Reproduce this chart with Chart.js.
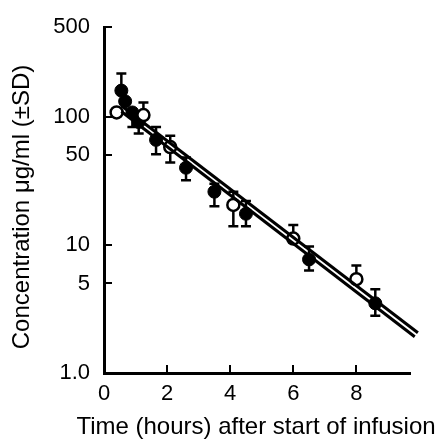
<!DOCTYPE html>
<html>
<head>
<meta charset="utf-8">
<script src="https://cdn.jsdelivr.net/npm/chart.js@4"></script>
<style>
  body { margin: 0; background: #fff; }
  #wrap { width: 437px; height: 445px; }
</style>
</head>
<body>
<div id="wrap"><canvas id="myChart"></canvas></div>
<script>
// filled circles
const filledTime = [0.55, 0.67, 0.9, 1.1, 1.65, 2.6, 3.5, 4.5, 6.5, 8.6];
const filledConc = [160, 132, 108, 91, 66, 40, 26, 17.5, 7.7, 3.5];
const filledHi = [218, null, null, null, 83, 48, 30, 22, 9.7, 4.5];
const filledLo = [null, null, 83, 74, 51, 32, 20, 14, 6.3, 2.8];

// open circles
const openTime = [0.4, 1.25, 2.1, 4.1, 6.0, 8.0];
const openConc = [108, 103, 58, 20.5, 11.2, 5.4];
const openHi = [null, 129, 71, 26, 14.3, 6.9];
const openLo = [null, null, 44, 14, null, null];

// fitted lines (end points)
const fitOpenTime = [0.55, 9.95];
const fitOpenConc = [122, 2.06];
const fitFilledTime = [0.55, 9.85];
const fitFilledConc = [110, 1.92];

const xTicks = [0, 2, 4, 6, 8];
const yTicks = [1, 5, 10, 50, 100, 500];
const yLabels = ['1.0', '5', '10', '50', '100', '500'];

const xTitle = 'Time (hours) after start of infusion';
const yTitle = 'Concentration μg/ml (±SD)';

const FONT = "'Liberation Sans', Arial, Helvetica, sans-serif";

function pts(xs, ys) {
  return xs.map((x, i) => ({ x: x, y: ys[i] }));
}

const errorBars = {
  id: 'errorBars',
  beforeDatasetsDraw(chart) {
    const { ctx, scales: { x, y } } = chart;
    ctx.save();
    ctx.strokeStyle = '#000';
    ctx.lineWidth = 2.5;
    const sets = [
      [filledTime, filledConc, filledHi, filledLo],
      [openTime, openConc, openHi, openLo]
    ];
    sets.forEach(([ts, cs, hi, lo]) => {
      ts.forEach((t, i) => {
        const px = x.getPixelForValue(t);
        const py = y.getPixelForValue(cs[i]);
        [hi[i], lo[i]].forEach(v => {
          if (v == null) return;
          const ey = y.getPixelForValue(v);
          ctx.beginPath();
          ctx.moveTo(px, py);
          ctx.lineTo(px, ey);
          ctx.moveTo(px - 5, ey);
          ctx.lineTo(px + 5, ey);
          ctx.stroke();
        });
      });
    });
    ctx.restore();
  }
};

// tick marks pointing into the plot, and axis titles (no width squeeze)
const axisDecor = {
  id: 'axisDecor',
  afterDraw(chart) {
    const { ctx, chartArea, scales: { x, y } } = chart;
    ctx.save();
    ctx.strokeStyle = '#000';
    ctx.lineWidth = 2;
    y.ticks.forEach(t => {
      const py = Math.round(y.getPixelForValue(t.value));
      ctx.beginPath();
      ctx.moveTo(chartArea.left, py);
      ctx.lineTo(chartArea.left + 8, py);
      ctx.stroke();
    });
    x.ticks.forEach(t => {
      if (t.value === 0) return;
      const px = Math.round(x.getPixelForValue(t.value));
      ctx.beginPath();
      ctx.moveTo(px, chartArea.bottom);
      ctx.lineTo(px, chartArea.bottom - 8);
      ctx.stroke();
    });

    ctx.fillStyle = '#000';
    ctx.font = '24px ' + FONT;
    ctx.textAlign = 'center';
    ctx.textBaseline = 'middle';
    ctx.fillText(xTitle, 256, 427);
    ctx.translate(22, 207);
    ctx.rotate(-Math.PI / 2);
    ctx.fillText(yTitle, 0, 0);
    ctx.restore();
  }
};

const config = {
  type: 'scatter',
  data: {
    datasets: [
      {
        type: 'line',
        data: pts(fitOpenTime, fitOpenConc),
        borderColor: '#000',
        borderWidth: 3,
        pointRadius: 0,
        clip: false
      },
      {
        type: 'line',
        data: pts(fitFilledTime, fitFilledConc),
        borderColor: '#000',
        borderWidth: 3,
        pointRadius: 0,
        clip: false
      },
      {
        data: pts(openTime, openConc),
        backgroundColor: '#fff',
        borderColor: '#000',
        borderWidth: 2.5,
        pointRadius: 6,
        clip: false
      },
      {
        data: pts(filledTime, filledConc),
        backgroundColor: '#000',
        borderColor: '#000',
        borderWidth: 1,
        pointRadius: 6.5,
        clip: false
      }
    ]
  },
  options: {
    responsive: true,
    maintainAspectRatio: false,
    animation: false,
    devicePixelRatio: 1,
    layout: { padding: { top: 18, right: 27, left: 0, bottom: 0 } },
    plugins: {
      legend: { display: false },
      tooltip: { enabled: false }
    },
    scales: {
      x: {
        type: 'linear',
        min: 0,
        max: 9.7,
        afterBuildTicks: axis => { axis.ticks = xTicks.map(v => ({ value: v })); },
        afterFit: axis => { axis.height = 72; },
        border: { color: '#000', width: 3 },
        grid: { drawOnChartArea: false, drawTicks: false },
        ticks: {
          color: '#000',
          padding: 8,
          maxRotation: 0,
          font: { family: FONT, size: 22 }
        }
      },
      y: {
        type: 'logarithmic',
        min: 1,
        max: 500,
        afterBuildTicks: axis => { axis.ticks = yTicks.map(v => ({ value: v })); },
        afterFit: axis => { axis.width = 104; },
        border: { color: '#000', width: 3 },
        grid: { drawOnChartArea: false, drawTicks: false },
        ticks: {
          color: '#000',
          padding: 14,
          font: { family: FONT, size: 22 },
          callback: v => yLabels[yTicks.indexOf(v)]
        }
      }
    }
  },
  plugins: [errorBars, axisDecor]
};

new Chart(document.getElementById('myChart'), config);
</script>
</body>
</html>
